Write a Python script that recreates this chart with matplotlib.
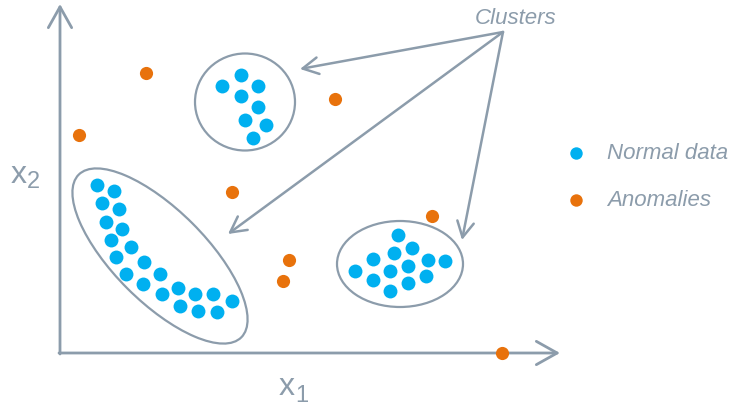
import matplotlib.pyplot as plt
from matplotlib.patches import Ellipse

# point positions (pixel units, y down)
top_x = [222, 241, 258, 241, 258, 245, 266, 253]
top_y = [87, 76, 87, 97, 108, 121, 126, 139]

left_x = [97, 114, 102, 119, 106, 122, 111, 131, 116, 144, 126,
          160, 143, 178, 162, 195, 213, 232, 180, 198, 217]
left_y = [186, 192, 204, 210, 223, 230, 241, 248, 258, 263, 275,
          275, 285, 289, 295, 295, 295, 302, 307, 312, 313]

right_x = [398, 412, 394, 373, 428, 445, 408, 390, 355, 426, 373, 408, 390]
right_y = [236, 249, 254, 260, 261, 262, 267, 272, 272, 277, 281, 284, 292]

anom_x = [146, 335, 79, 232, 432, 289, 283, 502]
anom_y = [74, 100, 136, 193, 217, 261, 282, 354]

legend_labels = ['Normal data', 'Anomalies']

BLUE = '#00b0f0'
ORANGE = '#e8720c'
GRAY = '#8c9cab'
FONT = 'Liberation Sans'

fig = plt.figure(figsize=(7.3, 4.06), dpi=100)
ax = fig.add_axes([0, 0, 1, 1])
ax.set_xlim(0, 730)
ax.set_ylim(406, 0)
ax.axis('off')

# axes drawn as open arrows
axis_arrow = dict(arrowstyle='->,head_length=0.75,head_width=0.42', lw=2.0,
                  color=GRAY, shrinkA=0, shrinkB=0, mutation_scale=20)
ax.annotate('', xy=(60, 5), xytext=(60, 355), arrowprops=axis_arrow)
ax.annotate('', xy=(560, 354), xytext=(59, 354), arrowprops=axis_arrow)

# cluster outlines
ax.add_patch(Ellipse((245, 103), 100, 97, fill=False, ec=GRAY, lw=1.6))
ax.add_patch(Ellipse((160, 257), 230, 92, angle=45, fill=False, ec=GRAY, lw=1.6))
ax.add_patch(Ellipse((400, 265), 126, 86, fill=False, ec=GRAY, lw=1.6))

ax.scatter(top_x + left_x + right_x, top_y + left_y + right_y, s=100,
           color=BLUE, lw=0, zorder=3)
ax.scatter(anom_x, anom_y, s=90, color=ORANGE, lw=0, zorder=3)

# "Clusters" pointers
ptr = dict(arrowstyle='->,head_length=0.75,head_width=0.4', lw=1.8,
           color=GRAY, shrinkA=0, shrinkB=0, mutation_scale=15)
src = (503, 33)
for tgt in [(300, 70), (228, 235), (462, 241)]:
    ax.annotate('', xy=tgt, xytext=src, arrowprops=ptr)
ax.text(516, 19, 'Clusters', fontsize=16, style='italic', color=GRAY,
        family=FONT, ha='center', va='center')

# axis labels
ax.text(11, 183, 'x', fontsize=23, color=GRAY, family=FONT, va='baseline')
ax.text(27, 188, '2', fontsize=17, color=GRAY, family=FONT, va='baseline')
ax.text(279, 395, 'x', fontsize=23, color=GRAY, family=FONT, va='baseline')
ax.text(295, 402, '1', fontsize=17, color=GRAY, family=FONT, va='baseline')

# legend
for i, (lab, col) in enumerate(zip(legend_labels, [BLUE, ORANGE])):
    y = 154 + 47 * i
    ax.scatter([576], [y], s=80, color=col, lw=0)
    ax.text(607, y, lab, fontsize=16, style='italic', color=GRAY,
            family=FONT, va='center')

fig.savefig('out.png', dpi=100)
